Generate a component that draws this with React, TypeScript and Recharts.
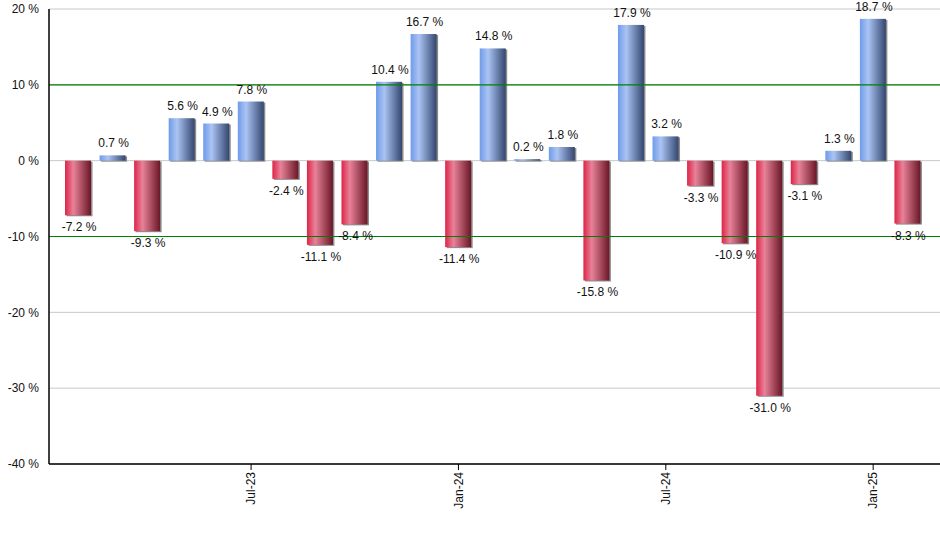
import React from "react";
import {
  BarChart,
  Bar,
  XAxis,
  YAxis,
  CartesianGrid,
  ReferenceLine,
  LabelList,
  Cell,
} from "recharts";

const MONTHS = [
  "Feb-23", "Mar-23", "Apr-23", "May-23", "Jun-23", "Jul-23", "Aug-23", "Sep-23",
  "Oct-23", "Nov-23", "Dec-23", "Jan-24", "Feb-24", "Mar-24", "Apr-24", "May-24",
  "Jun-24", "Jul-24", "Aug-24", "Sep-24", "Oct-24", "Nov-24", "Dec-24", "Jan-25", "Feb-25",
];

const RETURNS = [
  -7.2, 0.7, -9.3, 5.6, 4.9, 7.8, -2.4, -11.1, -8.4, 10.4, 16.7, -11.4, 14.8,
  0.2, 1.8, -15.8, 17.9, 3.2, -3.3, -10.9, -31.0, -3.1, 1.3, 18.7, -8.3,
];

const X_TICKS = ["Jul-23", "Jan-24", "Jul-24", "Jan-25"];
const Y_TICKS = [-40, -30, -20, -10, 0, 10, 20];
const GREEN_LINES = [10, -10];

const data = MONTHS.map((m, i) => ({ month: m, value: RETURNS[i] }));

const FONT = "'Liberation Sans', Arial, sans-serif";

// bar with horizontal gradient and a thin grey shadow on the right
function GradBar(props: any) {
  const { x, y, width, height, index, value } = props;
  const top = Math.min(y, y + height);
  const h = Math.abs(height);
  const pos = value >= 0;
  const id = `g${index}`;
  return (
    <g>
      <defs>
        <linearGradient id={id} x1="0" y1="0" x2="1" y2="0">
          {pos ? (
            <>
              <stop offset="0%" stopColor="#6f9be9" />
              <stop offset="32%" stopColor="#abc4f3" />
              <stop offset="100%" stopColor="#33466f" />
            </>
          ) : (
            <>
              <stop offset="0%" stopColor="#dd2448" />
              <stop offset="32%" stopColor="#e88299" />
              <stop offset="100%" stopColor="#6a1627" />
            </>
          )}
        </linearGradient>
      </defs>
      <rect x={x + 1.5} y={top + 1} width={width} height={h} fill="#8c8c8c" />
      <rect x={x} y={top} width={width} height={h} fill={`url(#${id})`} />
    </g>
  );
}

function ValueLabel(props: any) {
  const { x, y, width, height, value } = props;
  const top = Math.min(y, y + height);
  const bottom = Math.max(y, y + height);
  const cx = x + width / 2 + 1;
  const ty = value >= 0 ? top - 8 : bottom + 16;
  return (
    <text x={cx} y={ty} textAnchor="middle" fontSize={12} fontFamily={FONT} fill="#111">
      {`${value.toFixed(1)} %`}
    </text>
  );
}

function MonthTick(props: any) {
  const { x, y, payload } = props;
  return (
    <text
      x={x}
      y={y}
      transform={`rotate(-90, ${x}, ${y})`}
      textAnchor="end"
      dy="0.35em"
      fontSize={12}
      fontFamily={FONT}
      fill="#111"
    >
      {payload.value}
    </text>
  );
}

export default function App() {
  return (
    <div style={{ position: "absolute", left: 0, top: 0, background: "#fff" }}>
      <BarChart
        width={940}
        height={550}
        data={data}
        margin={{ top: 9, right: 0, bottom: 0, left: 0 }}
        barCategoryGap={8}
      >
        <CartesianGrid vertical={false} stroke="#c8c8c8" />
        <XAxis
          dataKey="month"
          ticks={X_TICKS}
          interval={0}
          height={86}
          padding={{ left: 12, right: 15 }}
          axisLine={{ stroke: "#000", strokeWidth: 1.5 }}
          tickLine={{ stroke: "#000" }}
          tickSize={6}
          tick={<MonthTick />}
        />
        <YAxis
          domain={[-40, 20]}
          ticks={Y_TICKS}
          width={49}
          interval={0}
          tickLine={false}
          axisLine={{ stroke: "#000", strokeWidth: 1.5 }}
          tickFormatter={(v: number) => `${v} %`}
          tick={{ fontSize: 12, fontFamily: FONT, fill: "#111" }}
          tickMargin={4}
        />
        {GREEN_LINES.map((v) => (
          <ReferenceLine key={v} y={v} stroke="#008000" strokeWidth={1.2} />
        ))}
        <Bar dataKey="value" barSize={26} shape={<GradBar />} isAnimationActive={false}>
          {data.map((d) => (
            <Cell key={d.month} />
          ))}
          <LabelList dataKey="value" content={<ValueLabel />} />
        </Bar>
      </BarChart>
    </div>
  );
}
